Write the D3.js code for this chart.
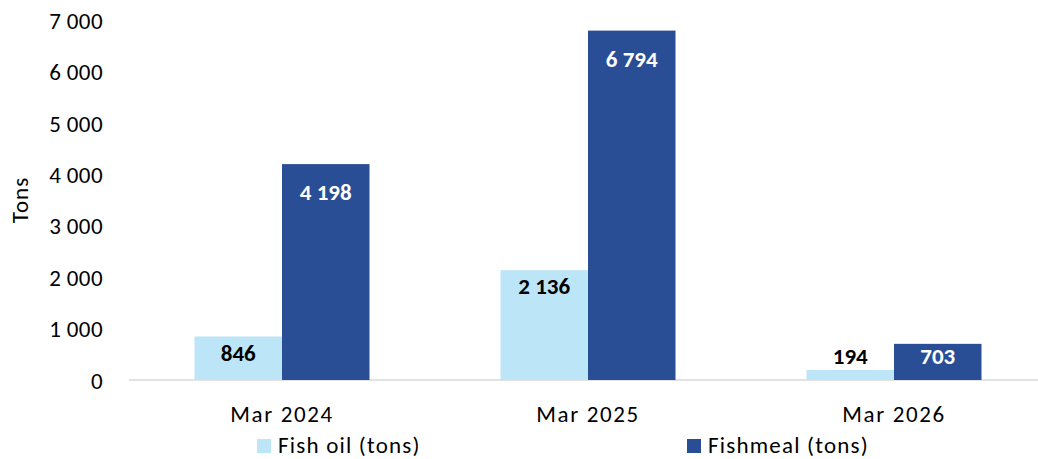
<!DOCTYPE html>
<html><head><meta charset="utf-8">
<script src="https://cdn.jsdelivr.net/npm/d3@7"></script>
<style>body{margin:0;background:#fff}svg{display:block}text{font-family:Carlito,Lato,"Liberation Sans",sans-serif}</style>
</head><body><svg id="c" width="1038" height="459"></svg>
<script>
const categories = ["Mar 2024", "Mar 2025", "Mar 2026"];
const fishOil = [846, 2136, 194];
const fishmeal = [4198, 6794, 703];
const seriesNames = ["Fish oil (tons)", "Fishmeal (tons)"];
const yTicks = [0, 1000, 2000, 3000, 4000, 5000, 6000, 7000];
const colors = ["#BDE5F8", "#2A4E96"];

const svg = d3.select("#c");
const fmt = v => d3.format(",")(v).replace(/,/g, " ");
const x = d3.scaleBand().domain(categories).range([129, 1047]).paddingInner(0).paddingOuter(0);
const y = d3.scaleLinear().domain([0, 7000]).range([380, 20]);
const barW = 87.5;
const FS = 23;
const labelOffset = [16, 28];

// y tick labels
const yAxis = d3.axisLeft(y).tickValues(yTicks).tickSize(0).tickPadding(0).tickFormat(fmt);
const ga = svg.append("g").attr("transform", "translate(103,0)").call(yAxis);
ga.select(".domain").remove();
ga.selectAll("text").attr("font-size", FS).attr("fill", "#000").attr("dy", "0.36em")
  .attr("letter-spacing", 0.4);

// baseline
svg.append("line").attr("x1", 129).attr("x2", 1047).attr("y1", y(0)).attr("y2", y(0))
  .attr("stroke", "#d9d9d9").attr("stroke-width", 1.5);

const series = [fishOil, fishmeal];
series.forEach((vals, si) => {
  const g = svg.append("g");
  g.selectAll("rect").data(vals).join("rect")
    .attr("x", (d, i) => x(categories[i]) + x.bandwidth() / 2 - barW + si * barW)
    .attr("width", barW)
    .attr("y", d => y(d))
    .attr("height", d => y(0) - y(d))
    .attr("fill", colors[si]);
  g.selectAll("text").data(vals).join("text")
    .attr("x", (d, i) => x(categories[i]) + x.bandwidth() / 2 - barW / 2 + si * barW)
    .attr("y", d => Math.min(y(d) + labelOffset[si], y(0) - 24))
    .attr("dy", "0.36em")
    .attr("text-anchor", "middle")
    .attr("font-size", FS).attr("font-weight", "bold")
    .attr("fill", si === 0 ? "#000" : "#fff")
    .text(d => fmt(d));
});

// category labels
const xAxis = d3.axisBottom(x).tickSize(0).tickPadding(0);
const gx = svg.append("g").attr("transform", "translate(0,414)").call(xAxis);
gx.select(".domain").remove();
gx.selectAll("text").attr("font-size", FS).attr("fill", "#000").attr("dy", "0.36em")
  .attr("letter-spacing", 1.6);

// y title
svg.append("text").attr("transform", "translate(20,200) rotate(-90)")
  .attr("text-anchor", "middle").attr("dy", "0.36em").attr("font-size", FS).attr("fill", "#000")
  .attr("letter-spacing", 1).text("Tons");

// legend
const legX = [257, 687];
seriesNames.forEach((n, i) => {
  svg.append("rect").attr("x", legX[i]).attr("y", 439).attr("width", 14).attr("height", 14).attr("fill", colors[i]);
  svg.append("text").attr("x", legX[i] + 21).attr("y", 445).attr("dy", "0.36em")
    .attr("font-size", FS).attr("fill", "#000").attr("letter-spacing", 1.2).text(n);
});
</script></body></html>
